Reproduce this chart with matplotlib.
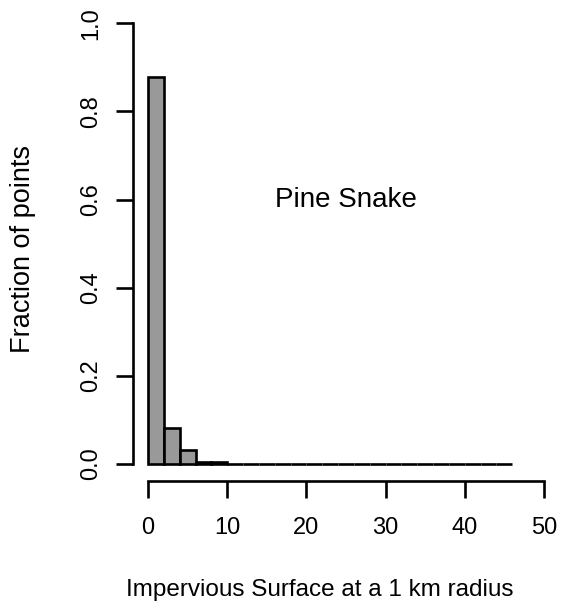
import matplotlib
matplotlib.use("Agg")
import matplotlib.pyplot as plt
import numpy as np

plt.rcParams['font.family'] = ['Liberation Sans', 'DejaVu Sans']

bin_edges = list(range(0, 48, 2))  # 0..46
fractions = [0.879, 0.081, 0.032, 0.005, 0.004] + [0.0] * 18
x_ticks = [0, 10, 20, 30, 40, 50]
y_ticks = [0.0, 0.2, 0.4, 0.6, 0.8, 1.0]
y_tick_labels = ["0.0", "0.2", "0.4", "0.6", "0.8", "1.0"]

W, H = 562, 612
fig = plt.figure(figsize=(W / 100, H / 100), dpi=100)
px_l, px_r, px_b, px_t = 148, 544, 464, 23.3
ax = fig.add_axes([px_l / W, (H - px_b) / H, (px_r - px_l) / W, (px_b - px_t) / H])

lefts = bin_edges[:-1]
widths = np.diff(bin_edges)
bars = ax.bar(lefts, fractions, width=widths, align='edge', color='#999999',
              edgecolor='black', linewidth=1.9, clip_on=False)

ax.set_xlim(0, 50)
ax.set_ylim(0, 1)

for s in ['top', 'right']:
    ax.spines[s].set_visible(False)
ax.spines['left'].set_position(('outward', 15 * 0.72))
ax.spines['bottom'].set_position(('outward', 17 * 0.72))
ax.spines['left'].set_bounds(0, 1)
ax.spines['bottom'].set_bounds(0, 50)
for s in ['left', 'bottom']:
    ax.spines[s].set_linewidth(1.9)

ax.set_xticks(x_ticks)
ax.set_yticks(y_ticks)
ax.set_yticklabels(y_tick_labels, rotation=90, va='center')
ax.tick_params(axis='both', length=12, width=1.9, labelsize=17)
ax.tick_params(axis='x', pad=14)
ax.tick_params(axis='y', pad=10)

ax.text(25, 0.6, "Pine Snake", ha='center', va='center', fontsize=20)

ax.set_xlabel("Impervious Surface at a 1 km radius", fontsize=17.5)
ax.xaxis.set_label_coords((320 - px_l) / (px_r - px_l), (px_b - 590) / (px_b - px_t))
ax.xaxis.label.set_va('center')
ax.set_ylabel("Fraction of points", fontsize=19.5)
ax.yaxis.set_label_coords((23 - px_l) / (px_r - px_l), (px_b - 249) / (px_b - px_t))
ax.yaxis.label.set_va('center')

fig.savefig("out.png", dpi=100)
